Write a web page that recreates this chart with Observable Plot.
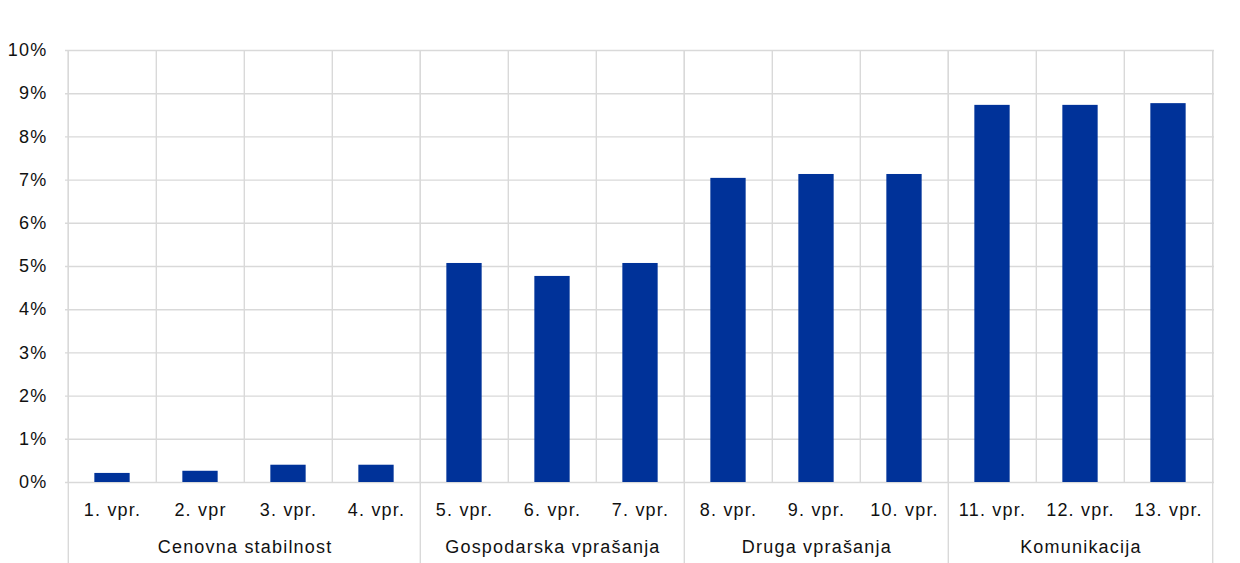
<!DOCTYPE html>
<html>
<head>
<meta charset="utf-8">
<script src="https://cdn.jsdelivr.net/npm/d3@7"></script>
<script src="https://cdn.jsdelivr.net/npm/@observablehq/plot@0.6"></script>
<style>
  html, body { margin: 0; padding: 0; background: #fff; }
  svg text { letter-spacing: 1.2px; }
</style>
</head>
<body>
<div id="chart"></div>
<script>
const categories = ["1. vpr.", "2. vpr", "3. vpr.", "4. vpr.", "5. vpr.", "6. vpr.", "7. vpr.", "8. vpr.", "9. vpr.", "10. vpr.", "11. vpr.", "12. vpr.", "13. vpr."];
const values = [0.21, 0.26, 0.40, 0.40, 5.07, 4.77, 5.07, 7.04, 7.13, 7.13, 8.73, 8.73, 8.77];
const groups = ["Cenovna stabilnost", "Gospodarska vprašanja", "Druga vprašanja", "Komunikacija"];
const groupSizes = [4, 3, 3, 3];
const yTicks = [0, 1, 2, 3, 4, 5, 6, 7, 8, 9, 10];

const W = 1240, H = 563;
const mL = 65, mR = 26, mT = 50, mB = 81;
const step = (W - mL - mR) / categories.length;
const barWidth = 35.7;
const inset = (step - barWidth) / 2;

const data = categories.map((c, i) => ({cat: c, value: values[i]}));

let idx = 0;
const groupInfo = groups.map((g, i) => {
  const first = categories[idx];
  const last = categories[idx + groupSizes[i] - 1];
  const info = {group: g, first, last, size: groupSizes[i]};
  idx += groupSizes[i];
  return info;
});

const grid = "#d9d9d9";
const textColor = "#111";
const plot = Plot.plot({
  width: W,
  height: H,
  marginLeft: mL,
  marginRight: mR,
  marginTop: mT,
  marginBottom: mB,
  style: {fontFamily: "'Liberation Sans', Arial, sans-serif", fontSize: "18px", color: textColor, background: "#fff"},
  x: {domain: categories, padding: 0, axis: null},
  y: {domain: [0, 10], axis: null},
  marks: [
    Plot.ruleY(yTicks, {stroke: grid, strokeWidth: 1.4}),
    Plot.ruleX(categories, {x: d => d, dx: -step / 2, stroke: grid, strokeWidth: 1.4}),
    Plot.ruleX([categories[categories.length - 1]], {x: d => d, dx: step / 2, stroke: grid, strokeWidth: 1.4}),
    Plot.ruleX(groupInfo, {x: "first", dx: -step / 2, stroke: grid, strokeWidth: 1.4, insetBottom: -mB}),
    Plot.ruleX([groupInfo[groupInfo.length - 1]], {x: "last", dx: step / 2, stroke: grid, strokeWidth: 1.4, insetBottom: -mB}),
    Plot.barY(data, {x: "cat", y: "value", fill: "#003299", insetLeft: inset, insetRight: inset}),
    Plot.axisY(yTicks, {tickSize: 0, tickPadding: 18, tickFormat: d => d + "%", fontSize: 18, fill: textColor, label: null}),
    Plot.text(categories, {x: d => d, frameAnchor: "bottom", dy: 28, fontSize: 18, fill: textColor, lineAnchor: "middle"}),
    ...groupInfo.map(g => Plot.text([g], {
      x: "first", text: "group", frameAnchor: "bottom",
      dx: (g.size - 1) / 2 * step, dy: 65, fontSize: 18, fill: textColor, lineAnchor: "middle"
    }))
  ]
});

document.getElementById("chart").appendChild(plot);
</script>
</body>
</html>
